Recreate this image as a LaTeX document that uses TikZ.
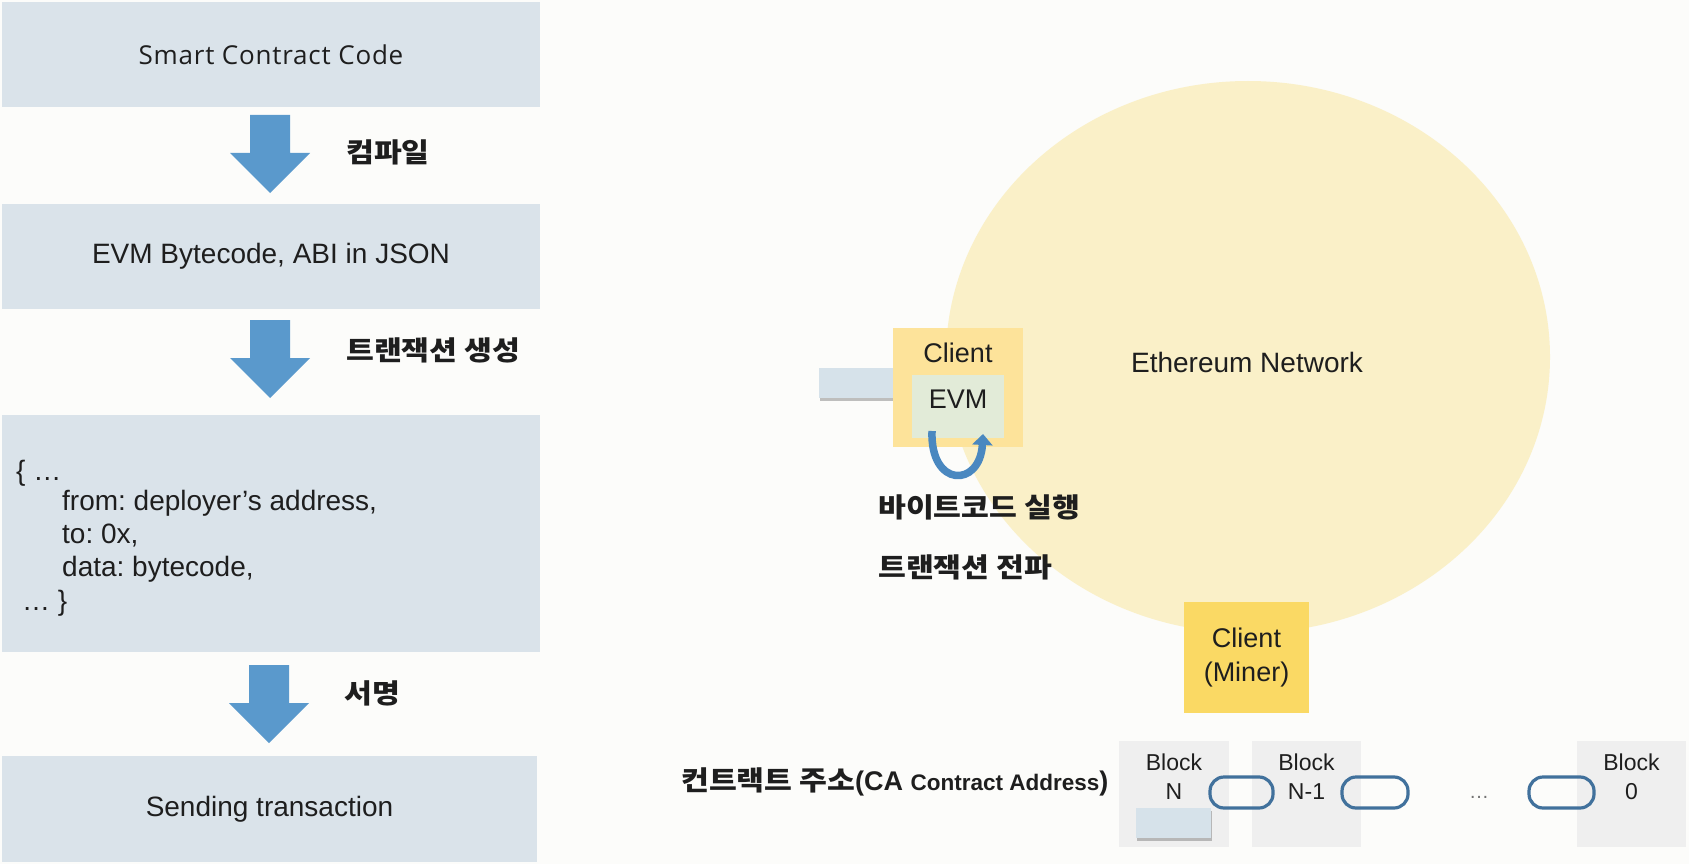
\documentclass[tikz,border=0pt]{standalone}
\usepackage{fontspec}
\setmainfont{Liberation Sans}
\newfontfamily\kor{Noto Sans CJK KR}[FakeStretch=1.12]
\newfontfamily\malg{Open Sans}[LetterSpace=3]
\usetikzlibrary{shapes.geometric,arrows.meta,shadows,calc}
\definecolor{bgc}{HTML}{FCFCFA}
\definecolor{boxc}{HTML}{DAE3EA}
\definecolor{arrc}{HTML}{5A99CC}
\definecolor{ellc}{HTML}{FAF0C8}
\definecolor{clc}{HTML}{FDE39A}
\definecolor{minc}{HTML}{FAD964}
\definecolor{evmc}{HTML}{E2EBD8}
\definecolor{src}{HTML}{D6E2EA}
\definecolor{blkc}{HTML}{EFEFEF}
\definecolor{linkc}{HTML}{41719C}
\definecolor{txtc}{HTML}{1E1E1E}
\definecolor{curvc}{HTML}{4A88C0}
\frenchspacing
\begin{document}
\begin{tikzpicture}[x=1pt,y=-1pt,
  lbox/.style={fill=boxc,draw=none,inner sep=0pt,minimum width=538,text=txtc},
  ar28/.style={font=\fontsize{28}{33}\selectfont},
  txt/.style={text=txtc,inner sep=0pt},
  korlab/.style={font=\kor\bfseries\fontsize{27}{30}\selectfont,anchor=west,inner sep=0pt,text=txtc},
  smallr/.style={fill=src,inner sep=0pt,minimum width=74,minimum height=30,
     drop shadow={shadow xshift=1pt,shadow yshift=-3pt,opacity=.45,fill=black!55}},
  blk/.style={fill=blkc,inner sep=0pt,minimum height=106},
  blktx/.style={txt,align=center,font=\fontsize{23}{29}\selectfont},
  chainlink/.style={draw=linkc,line width=3.2pt,rounded corners=14pt,minimum height=31,inner sep=0pt},
  dnarrow/.pic={\fill[arrc] (-20,0) -- (20,0) -- (20,38) -- (40,38) -- (0,78) -- (-40,38) -- (-20,38) -- cycle;}
]
\fill[bgc] (0,0) rectangle (1689,864);
\useasboundingbox (0,0) rectangle (1689,864);

% left column
\node[lbox,minimum height=105] (b1) at (271,54.5) {\malg\fontsize{26}{30}\selectfont Smart Contract Code};
\node[lbox,minimum height=105,ar28] (b2) at (271,256.5) {EVM Bytecode, ABI in JSON};
\node[lbox,minimum height=237] (b3) at (271,533.5) {};
\node[lbox,minimum height=106,minimum width=535,ar28] (b4) at (269.5,809) {Sending transaction};

\pic at (270,115) {dnarrow};
\pic at (270,320) {dnarrow};
\pic at (269,665) {dnarrow};

\node[korlab] (lc) at (346,152) {컴파일};
\node[korlab] (lt) at (346,350) {트랜잭션 생성};
\node[korlab] (ls) at (344,693) {서명};

\node[txt,ar28,anchor=base west] (j1) at (16,480) {\{ …};
\node[txt,ar28,anchor=base west] (j2) at (62,510) {from: deployer’s address,};
\node[txt,ar28,anchor=base west] (j3) at (62,543) {to: 0x,};
\node[txt,ar28,anchor=base west] (j4) at (62,576) {data: bytecode,};
\node[txt,ar28,anchor=base west] (j5) at (22,610) {… \}};

% network
\node[ellipse,fill=ellc,minimum width=604,minimum height=552,inner sep=0pt] (net) at (1248,357) {};
\node[txt,ar28] (nettx) at (1247,362) {Ethereum Network};

\node[smallr] (sr1) at (856,383) {};
\node[fill=clc,minimum width=130,minimum height=119,inner sep=0pt] (cl) at (958,387.5) {};
\node[txt,font=\fontsize{27}{30}\selectfont] (cltx) at (958,353) {Client};
\node[fill=evmc,minimum width=92,minimum height=63,inner sep=0pt] (evm) at (958,406.5) {};
\node[txt,font=\fontsize{27}{30}\selectfont] (evmtx) at (958,399) {EVM};

\coordinate (cs) at (932,431);
\coordinate (ce) at (983,434);
\draw[curvc,line width=7.5pt,-{Triangle[width=20pt,length=11pt]}] (cs) .. controls (930,488) and (980,488) .. (ce);

\node[korlab] (bx) at (878,507) {바이트코드 실행};
\node[korlab] (tp) at (878,567) {트랜잭션 전파};

\node[fill=minc,minimum width=125,minimum height=111,inner sep=0pt,align=center,text=txtc,font=\fontsize{27}{34}\selectfont] (miner) at (1246.5,657.5) {Client\\(Miner)};

% chain
\node[anchor=west,inner sep=0pt,text=txtc] (ca) at (681,782)
  {{\kor\bfseries\fontsize{27}{30}\selectfont 컨트랙트 주소}{\bfseries\fontsize{27}{30}\selectfont (CA {\fontsize{22.5}{24}\selectfont Contract Address})}};

\node[blk,minimum width=110] (bn) at (1174,794) {};
\node[blk,minimum width=109] (bn1) at (1306.5,794) {};
\node[blk,minimum width=109] (b0) at (1631.5,794) {};
\node[blktx] (bntx) at (1174,777) {Block\\N};
\node[blktx] (bn1tx) at (1306.5,777) {Block\\N-1};
\node[blktx] (b0tx) at (1631.5,777) {Block\\0};
\node[smallr,minimum width=75] (sr2) at (1173.5,823) {};

\node[chainlink,minimum width=63] (l1) at (1241.5,792.5) {};
\node[chainlink,minimum width=66] (l2) at (1375,792.5) {};
\node[chainlink,minimum width=65] (l3) at (1561.5,792.5) {};
\node[inner sep=0pt,text=black!55,font=\fontsize{20}{20}\selectfont] (dots) at (1479,797) {…};
\end{tikzpicture}
\end{document}
